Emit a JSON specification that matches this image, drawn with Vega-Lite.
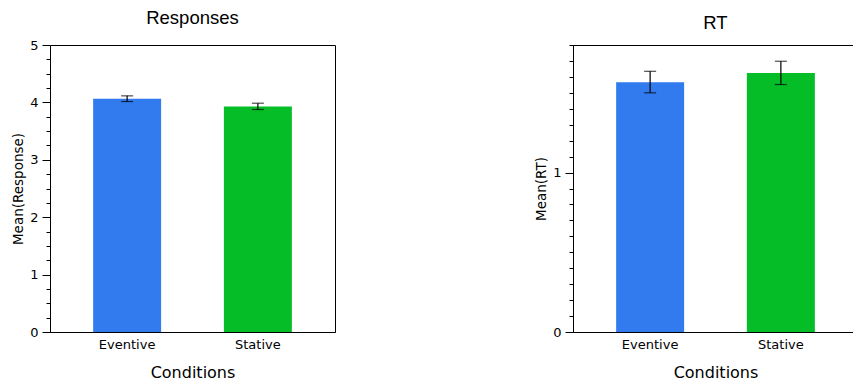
{
  "$schema": "https://vega.github.io/schema/vega-lite/v6.json",
  "padding": {"left": 11, "top": 8, "right": 0, "bottom": 0},
  "background": "white",
  "datasets": {
    "responses": [
      {"Condition": "Eventive", "mean": 4.064, "lo": 4.015, "hi": 4.114},
      {"Condition": "Stative", "mean": 3.93, "lo": 3.876, "hi": 3.986}
    ],
    "rt": [
      {"Condition": "Eventive", "mean": 1.567, "lo": 1.5, "hi": 1.635},
      {"Condition": "Stative", "mean": 1.625, "lo": 1.552, "hi": 1.698}
    ]
  },
  "config": {
    "view": {"stroke": "#000", "strokeWidth": 1},
    "title": {"font": "Liberation Sans", "fontSize": 18.5, "fontWeight": "normal", "color": "#000", "offset": 12},
    "axis": {
      "labelFont": "DejaVu Sans", "labelFontSize": 13, "labelColor": "#000",
      "titleFont": "DejaVu Sans", "titleFontWeight": "normal", "titleColor": "#000",
      "domainColor": "#000", "tickColor": "#000", "grid": false
    }
  },
  "spacing": 198,
  "hconcat": [
    {
      "width": 285,
      "height": 287,
      "title": "Responses",
      "data": {"name": "responses"},
      "resolve": {"axis": {"y": "independent"}},
      "layer": [
        {
          "mark": {"type": "bar"},
          "encoding": {
            "x": {"field": "Condition", "type": "nominal", "sort": null,
                  "scale": {"paddingInner": 0.48, "paddingOuter": 0.33},
                  "axis": {"title": "Conditions", "labelAngle": 0, "ticks": false, "tickSize": 0, "labelPadding": 6, "titleFontSize": 16, "titlePadding": 13}},
            "y": {"field": "mean", "type": "quantitative", "title": "Mean(Response)",
                  "scale": {"domain": [0, 5], "nice": false},
                  "axis": {"orient": "left", "titleFontSize": 13.5, "titlePadding": 4, "format": "d", "labelOverlap": false,
                           "values": [0, 1, 2, 3, 4, 5], "tickSize": 8, "labelPadding": 4}},
            "color": {"field": "Condition", "type": "nominal",
                      "scale": {"domain": ["Eventive", "Stative"], "range": ["#317BEF", "#04BD27"]},
                      "legend": null}
          }
        },
        {
          "mark": {"type": "errorbar", "color": "#000", "thickness": 1.2, "ticks": {"size": 12, "color": "#000", "thickness": 1.2}},
          "encoding": {
            "x": {"field": "Condition", "type": "nominal", "sort": null},
            "y": {"field": "lo", "type": "quantitative",
                  "axis": {"orient": "left", "title": null, "labels": false, "domain": false, "tickSize": 4,
                           "values": [0.25, 0.5, 0.75, 1.25, 1.5, 1.75, 2.25, 2.5, 2.75, 3.25, 3.5, 3.75, 4.25, 4.5, 4.75]}},
            "y2": {"field": "hi"}
          }
        }
      ]
    },
    {
      "width": 285,
      "height": 287,
      "title": "RT",
      "data": {"name": "rt"},
      "resolve": {"axis": {"y": "independent"}},
      "layer": [
        {
          "mark": {"type": "bar"},
          "encoding": {
            "x": {"field": "Condition", "type": "nominal", "sort": null,
                  "scale": {"paddingInner": 0.48, "paddingOuter": 0.33},
                  "axis": {"title": "Conditions", "labelAngle": 0, "ticks": false, "tickSize": 0, "labelPadding": 6, "titleFontSize": 16, "titlePadding": 13}},
            "y": {"field": "mean", "type": "quantitative", "title": "Mean(RT)",
                  "scale": {"domain": [0, 1.8], "nice": false},
                  "axis": {"orient": "left", "titleFontSize": 13.5, "titlePadding": 4, "format": "d", "labelOverlap": false,
                           "values": [0, 1], "tickSize": 8, "labelPadding": 4}},
            "color": {"field": "Condition", "type": "nominal",
                      "scale": {"domain": ["Eventive", "Stative"], "range": ["#317BEF", "#04BD27"]},
                      "legend": null}
          }
        },
        {
          "mark": {"type": "errorbar", "color": "#000", "thickness": 1.2, "ticks": {"size": 12, "color": "#000", "thickness": 1.2}},
          "encoding": {
            "x": {"field": "Condition", "type": "nominal", "sort": null},
            "y": {"field": "lo", "type": "quantitative",
                  "axis": {"orient": "left", "title": null, "labels": false, "domain": false, "tickSize": 4,
                           "values": [0.1, 0.2, 0.3, 0.4, 0.5, 0.6, 0.7, 0.8, 0.9, 1.1, 1.2, 1.3, 1.4, 1.5, 1.6, 1.7, 1.8]}},
            "y2": {"field": "hi"}
          }
        }
      ]
    }
  ]
}
